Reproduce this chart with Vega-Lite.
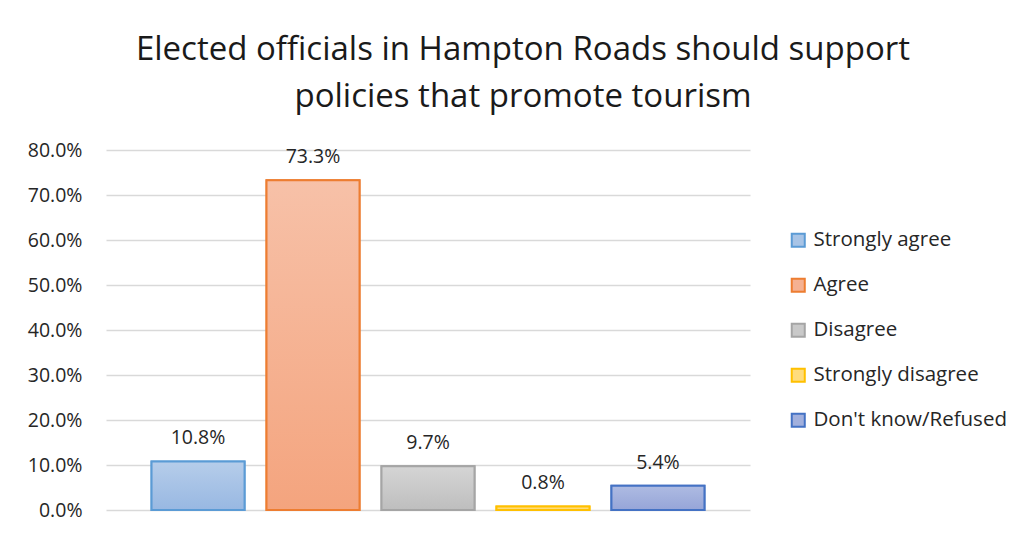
{
  "$schema": "https://vega.github.io/schema/vega-lite/v6.json",
  "autosize": "none",
  "width": 644,
  "height": 360,
  "padding": {"left": 106, "top": 150, "right": 279, "bottom": 26},
  "background": "white",
  "title": {
    "text": ["Elected officials in Hampton Roads should support", "policies that promote tourism"],
    "font": "Open Sans",
    "fontSize": 33,
    "fontWeight": "normal",
    "color": "#1a1a1a",
    "anchor": "middle",
    "dx": 95,
    "offset": 26,
    "lineHeight": 47
  },
  "data": {
    "values": [
      {"cat": "Strongly agree", "value": 0.108},
      {"cat": "Agree", "value": 0.733},
      {"cat": "Disagree", "value": 0.097},
      {"cat": "Strongly disagree", "value": 0.008},
      {"cat": "Don't know/Refused", "value": 0.054}
    ]
  },
  "config": {
    "view": {"stroke": null},
    "font": "Open Sans"
  },
  "encoding": {
    "x": {
      "field": "cat",
      "type": "nominal",
      "sort": null,
      "axis": null,
      "scale": {"domain": ["Strongly agree", "Agree", "Disagree", "Strongly disagree", "Don't know/Refused"], "paddingInner": 0.191, "paddingOuter": 0.396}
    },
    "y": {
      "field": "value",
      "type": "quantitative",
      "scale": {"domain": [0, 0.8]},
      "axis": {
        "title": null,
        "format": ".1%",
        "values": [0, 0.1, 0.2, 0.3, 0.4, 0.5, 0.6, 0.7, 0.8],
        "domain": false,
        "ticks": false,
        "labelFontSize": 19.5,
        "labelColor": "#262626",
        "labelPadding": 24,
        "gridColor": "#d9d9d9",
        "gridWidth": 1.3
      }
    }
  },
  "layer": [
    {
      "mark": {"type": "bar", "strokeWidth": 2},
      "encoding": {
        "fill": {
          "field": "cat",
          "type": "nominal",
          "sort": null,
          "scale": {
            "domain": ["Strongly agree", "Agree", "Disagree", "Strongly disagree", "Don't know/Refused"],
            "range": ["#a8c4e6", "#f5b192", "#c9c9c9", "#ffdc7d", "#a2b0dd"]
          },
          "legend": {
            "title": null,
            "orient": "none",
            "legendX": 682,
            "legendY": 80,
            "labelFontSize": 20.5,
            "labelColor": "#262626",
            "symbolType": "square",
            "symbolSize": 170,
            "symbolStrokeWidth": 2,
            "rowPadding": 23,
            "labelOffset": 5,
            "labelLimit": 300
          }
        },
        "stroke": {
          "field": "cat",
          "type": "nominal",
          "sort": null,
          "scale": {
            "domain": ["Strongly agree", "Agree", "Disagree", "Strongly disagree", "Don't know/Refused"],
            "range": ["#5b9bd5", "#ed7d31", "#a5a5a5", "#ffc000", "#4472c4"]
          },
          "legend": {
            "title": null,
            "orient": "none",
            "legendX": 682,
            "legendY": 80,
            "labelFontSize": 20.5,
            "labelColor": "#262626",
            "symbolType": "square",
            "symbolSize": 170,
            "symbolStrokeWidth": 2,
            "rowPadding": 23,
            "labelOffset": 5,
            "labelLimit": 300
          }
        }
      }
    },
    {
      "transform": [{"filter": "datum.cat === 'Strongly agree'"}],
      "mark": {"type": "bar", "strokeWidth": 2, "stroke": "#5b9bd5", "fill": {"gradient": "linear", "x1": 0, "y1": 0, "x2": 0, "y2": 1, "stops": [{"offset": 0, "color": "#b6cdea"}, {"offset": 1, "color": "#98b8e2"}]}},
      "encoding": {}
    },
    {
      "transform": [{"filter": "datum.cat === 'Agree'"}],
      "mark": {"type": "bar", "strokeWidth": 2, "stroke": "#ed7d31", "fill": {"gradient": "linear", "x1": 0, "y1": 0, "x2": 0, "y2": 1, "stops": [{"offset": 0, "color": "#f7c1a8"}, {"offset": 1, "color": "#f4a47e"}]}},
      "encoding": {}
    },
    {
      "transform": [{"filter": "datum.cat === 'Disagree'"}],
      "mark": {"type": "bar", "strokeWidth": 2, "stroke": "#a5a5a5", "fill": {"gradient": "linear", "x1": 0, "y1": 0, "x2": 0, "y2": 1, "stops": [{"offset": 0, "color": "#d5d5d5"}, {"offset": 1, "color": "#bebebe"}]}},
      "encoding": {}
    },
    {
      "transform": [{"filter": "datum.cat === 'Strongly disagree'"}],
      "mark": {"type": "bar", "strokeWidth": 2, "stroke": "#ffc000", "fill": {"gradient": "linear", "x1": 0, "y1": 0, "x2": 0, "y2": 1, "stops": [{"offset": 0, "color": "#ffe394"}, {"offset": 1, "color": "#ffd766"}]}},
      "encoding": {}
    },
    {
      "transform": [{"filter": "datum.cat === \"Don't know/Refused\""}],
      "mark": {"type": "bar", "strokeWidth": 2, "stroke": "#4472c4", "fill": {"gradient": "linear", "x1": 0, "y1": 0, "x2": 0, "y2": 1, "stops": [{"offset": 0, "color": "#aebbe2"}, {"offset": 1, "color": "#96a5d8"}]}},
      "encoding": {}
    },
    {
      "mark": {"type": "text", "baseline": "bottom", "dy": -13, "fontSize": 19.5, "color": "#262626"},
      "encoding": {
        "text": {"field": "value", "type": "quantitative", "format": ".1%"}
      }
    }
  ]
}
